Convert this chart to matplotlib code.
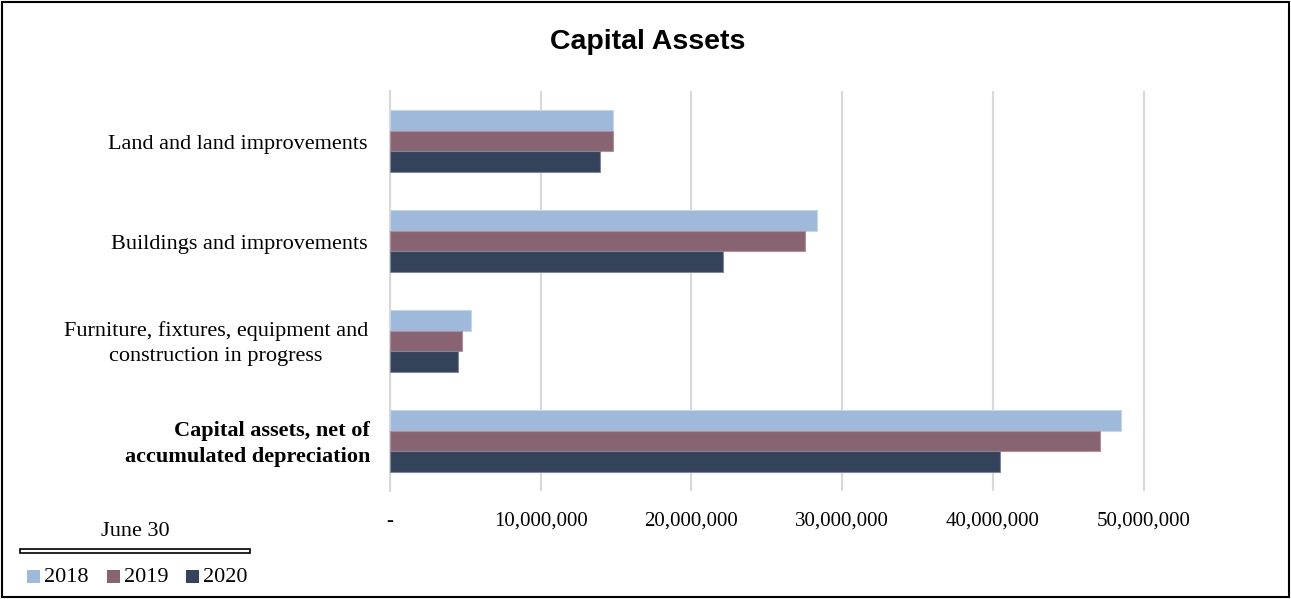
import matplotlib
matplotlib.use("Agg")
import matplotlib.pyplot as plt
from matplotlib.patches import Rectangle
import numpy as np

categories = ["Land and land improvements",
              "Buildings and improvements",
              "Furniture, fixtures, equipment and\nconstruction in progress",
              "Capital assets, net of\naccumulated depreciation"]
years = ["2018", "2019", "2020"]
values_2018 = [14.8e6, 28.3e6, 5.4e6, 48.5e6]
values_2019 = [14.8e6, 27.5e6, 4.8e6, 47.1e6]
values_2020 = [13.9e6, 22.1e6, 4.5e6, 40.5e6]
series = [values_2018, values_2019, values_2020]
colors = ["#9fb9da", "#886472", "#34435a"]
edge_colors = ["#c5d5ea", "#b08e9b", "#7f8899"]
xticks = [0, 10e6, 20e6, 30e6, 40e6, 50e6]
xtick_labels = ["-", "10,000,000", "20,000,000", "30,000,000", "40,000,000", "50,000,000"]

W, H = 1291, 599
fig = plt.figure(figsize=(W / 100, H / 100), dpi=100)
serif = ["Liberation Serif", "DejaVu Serif"]

ax_left, ax_right, ax_top, ax_bot = 390, 1219, 91, 491
ax_w = ax_right - ax_left
ax = fig.add_axes([ax_left / W, 1 - ax_bot / H, ax_w / W, (ax_bot - ax_top) / H])

n = len(categories)
y = np.arange(n)
bh = 0.208
for i, (vals, c, ec) in enumerate(zip(series, colors, edge_colors)):
    ax.barh(y + (i - 1) * bh, vals, height=bh, color=c, edgecolor=ec, linewidth=0.8, zorder=3)

ax.set_ylim(n - 0.5, -0.5)
ax.set_xlim(0, 55e6)
ax.set_xticks(xticks)
ax.set_xticklabels(xtick_labels, fontfamily=serif, fontsize=15)
ax.tick_params(axis="x", length=0, pad=15)
ax.set_yticks([])
ax.grid(axis="x", color="#d9d9d9", linewidth=1.5, zorder=0)
for s in ["top", "right", "bottom"]:
    ax.spines[s].set_visible(False)
ax.spines["left"].set_color("#d9d9d9")
ax.spines["left"].set_linewidth(1.5)

# category labels
for i, cat in enumerate(categories):
    if i == 3:
        ax.text(-20 / ax_w, i + 0.03, cat, transform=ax.get_yaxis_transform(), ha="right",
                va="center", fontfamily=serif, fontsize=16, fontweight="bold",
                multialignment="right", linespacing=1.45)
    elif "\n" in cat:
        ax.text(-22 / ax_w, i + 0.025, cat, transform=ax.get_yaxis_transform(), ha="right",
                va="center", fontfamily=serif, fontsize=16, multialignment="center",
                linespacing=1.45)
    else:
        ax.text(-22 / ax_w, i + 0.03, cat, transform=ax.get_yaxis_transform(), ha="right",
                va="center", fontfamily=serif, fontsize=16)

fig.text(648 / W, 1 - 42 / H, "Capital Assets", ha="center", va="center",
         fontfamily=["Liberation Sans", "DejaVu Sans"], fontsize=20.5, fontweight="bold")

# legend
fig.text(135 / W, 1 - 532 / H, "June 30", ha="center", va="center", fontfamily=serif, fontsize=16)
fig.patches.append(Rectangle((20 / W, 1 - 553 / H), 230 / W, 4 / H, transform=fig.transFigure,
                             facecolor="white", edgecolor="black", linewidth=1.2))
leg_x = [27, 107, 186]
for lx, yr, c in zip(leg_x, years, colors):
    fig.patches.append(Rectangle((lx / W, 1 - 583 / H), 13 / W, 13 / H, transform=fig.transFigure,
                                 facecolor=c, edgecolor="none"))
    fig.text((lx + 17) / W, 1 - 577 / H, yr, ha="left", va="center", fontfamily=serif, fontsize=16)

# outer border
fig.patches.append(Rectangle((2 / W, 2 / H), (W - 4) / W, (H - 4) / H, transform=fig.transFigure,
                             facecolor="none", edgecolor="black", linewidth=1.5))

fig.savefig("out.png", dpi=100)
